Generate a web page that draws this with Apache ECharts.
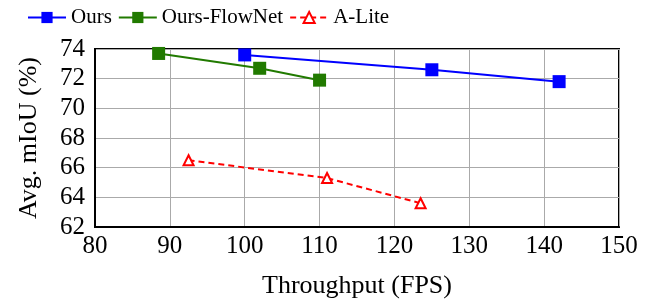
<!DOCTYPE html>
<html>
	<head>
		<meta charset="utf-8">
		<title></title>
		<script src="https://cdn.jsdelivr.net/npm/echarts@6/dist/echarts.min.js"></script>
		<style>
			body{margin:0;background:#fff;}
			.chart{width:651px;height:304px;}
		</style>
	</head>
	<body>
		<div class="chart"></div>
		<script>
			var ours = [[100, 73.6], [125, 72.6], [142, 71.8]];
			var oursFlow = [[88.5, 73.7], [102, 72.7], [110, 71.9]];
			var aLite = [[92.5, 66.5], [111, 65.3], [123.5, 63.6]];

			var font = 'Liberation Serif';
			var chart = echarts.init(document.querySelector('.chart'));
			chart.setOption({
				animation: false,
				textStyle: {fontFamily: font},
				legend: {
					left: 22, top: 2,
					itemWidth: 38, itemHeight: 14, itemGap: 6,
					textStyle: {fontFamily: font, fontSize: 21, color: '#000'},
					data: ['Ours', 'Ours-FlowNet', 'A-Lite']
				},
				grid: {
					left: 95, right: 32, top: 49, bottom: 73,
					show: true, borderColor: '#000', borderWidth: 2
				},
				xAxis: {
					type: 'value', min: 80, max: 150, interval: 10,
					name: 'Throughput (FPS)', nameLocation: 'middle', nameGap: 46,
					nameTextStyle: {fontFamily: font, fontSize: 26, color: '#000'},
					axisLine: {lineStyle: {color: '#000', width: 2}},
					axisTick: {show: false},
					axisLabel: {fontFamily: font, fontSize: 25, color: '#000', margin: 7},
					splitLine: {lineStyle: {color: '#aaa', width: 1}}
				},
				yAxis: {
					type: 'value', min: 62, max: 74, interval: 2,
					name: 'Avg. mIoU (%)', nameLocation: 'middle', nameGap: 53,
					nameTextStyle: {fontFamily: font, fontSize: 26, color: '#000'},
					axisLine: {lineStyle: {color: '#000', width: 2}},
					axisTick: {show: false},
					axisLabel: {fontFamily: font, fontSize: 25, color: '#000', margin: 10},
					splitLine: {lineStyle: {color: '#aaa', width: 1}}
				},
				series: [
					{
						name: 'Ours', type: 'line', data: ours,
						symbol: 'rect', symbolSize: 13,
						lineStyle: {color: '#0000ff', width: 2},
						itemStyle: {color: '#0000ff'}
					},
					{
						name: 'Ours-FlowNet', type: 'line', data: oursFlow,
						symbol: 'rect', symbolSize: 13,
						lineStyle: {color: '#217a00', width: 2},
						itemStyle: {color: '#217a00'}
					},
					{
						name: 'A-Lite', type: 'line', data: aLite,
						symbol: 'triangle', symbolSize: 10, showAllSymbol: true,
						lineStyle: {color: '#ff0000', width: 2, type: [6, 4]},
						itemStyle: {color: '#fff', borderColor: '#ff0000', borderWidth: 2}
					}
				]
			});
		</script>
	</body>
</html>
